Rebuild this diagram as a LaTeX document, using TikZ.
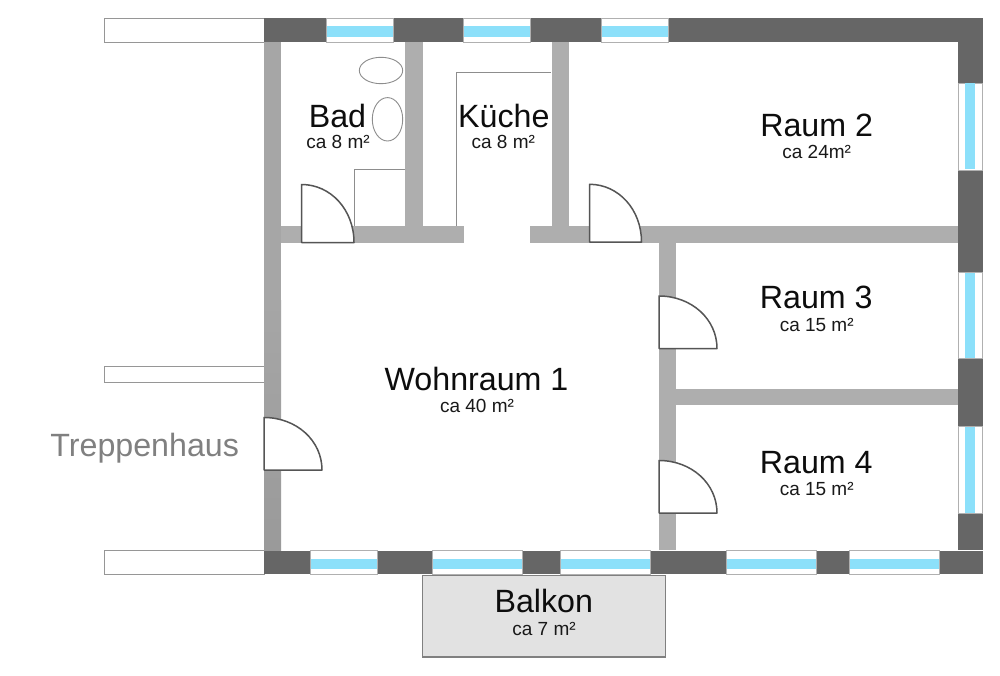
\documentclass[tikz,border=0pt]{standalone}
\usepackage{fontspec}
\setmainfont{Liberation Sans}
\definecolor{darkwall}{HTML}{666666}
\definecolor{innerwall}{HTML}{AEAEAE}
\definecolor{leftwalltop}{HTML}{A6A6A6}
\definecolor{leftwallbot}{HTML}{9A9A9A}
\definecolor{glass}{HTML}{8CE0FA}
\definecolor{thinline}{HTML}{B0B0B0}
\definecolor{doorline}{HTML}{555555}
\definecolor{balkonfill}{HTML}{E2E2E2}
\tikzset{
  wallinner/.style={fill=innerwall,draw=none},
  walldark/.style={fill=darkwall,draw=none},
  winframe/.style={fill=white,draw=thinline,line width=0.9pt},
  winglass/.style={fill=glass,draw=none},
  stub/.style={fill=white,draw=thinline!85!black,line width=1pt},
  fixture/.style={draw=thinline!80!black,line width=0.9pt},
  doorleaf/.style={fill=white,draw=doorline,line width=1.5pt,line join=round},
  bigname/.style={anchor=base,inner sep=0pt,font=\fontsize{32.2}{32.2}\selectfont,text=black!95},
  subname/.style={anchor=base,inner sep=0pt,font=\fontsize{19}{19}\selectfont,text=black!90},
}
\newcommand{\doorshape}[4]{%
  \draw[doorleaf] (#1,#2) .. controls ({#1+0.56*(#3-#1)},#2) and (#3,{#2+0.44*(#4-#2)}) .. (#3,#4) -- (#1,#4) -- cycle;}
\newcommand{\hwin}[4]{%
  \draw[winframe] (#1,#3) rectangle (#2,#4);
  \fill[winglass] (#1+0.5,#3+8) rectangle (#2-0.5,#4-5.5);}
\newcommand{\vwin}[4]{%
  \draw[winframe] (#1,#3) rectangle (#2,#4);
  \fill[winglass] (#1+6.5,#3+0.5) rectangle (#2-7.5,#4-0.5);}
\begin{document}
\begin{tikzpicture}[x=1pt,y=-1pt]
\useasboundingbox (0,0) rectangle (1000,676);
\fill[white] (0,0) rectangle (1000,676);

% stairwell stubs
\draw[stub] (104.5,18.5) rectangle (264,42.5);
\draw[stub] (104.5,366.5) rectangle (264,382.5);
\draw[stub] (104.5,550.5) rectangle (264,574);

% fixtures
\draw[fixture,fill=white] (354,169.5) rectangle (405.5,226.5);
\draw[fixture] (381,70.5) ellipse [x radius=21.7,y radius=13.2];
\draw[fixture] (387.5,119.3) ellipse [x radius=15.2,y radius=21.7];
\draw[fixture] (456,226.5) -- (456,72.5) -- (551,72.5);

% inner walls
\fill[leftwalltop] (264,42.5) rectangle (281,300);
\shade[top color=leftwalltop,bottom color=leftwallbot] (264,300) rectangle (281,550);
\fill[wallinner] (281,226.5) rectangle (463.5,243);
\fill[wallinner] (529.5,226.5) rectangle (958,243);
\fill[wallinner] (405.3,42.5) rectangle (422.7,226.5);
\fill[wallinner] (552.3,42.5) rectangle (569,226.5);
\fill[wallinner] (659,243) rectangle (676,550);
\fill[wallinner] (676,388.5) rectangle (958,404.5);

% top wall
\fill[walldark] (264,18.5) rectangle (982.5,42.5);
\hwin{326.5}{393}{18.5}{42.5}
\hwin{463}{530}{18.5}{42.5}
\hwin{601}{668}{18.5}{42.5}

% right wall
\fill[walldark] (958,42.5) rectangle (982.5,550);
\vwin{958}{982.5}{83}{170}
\vwin{958}{982.5}{272}{358}
\vwin{958}{982.5}{426}{513}

% bottom wall
\fill[walldark] (264,550.5) rectangle (982.5,574);
\hwin{310}{377}{550.5}{574}
\hwin{432.3}{522.5}{550.5}{574}
\hwin{560.5}{650.5}{550.5}{574}
\hwin{726}{816.5}{550.5}{574}
\hwin{849.5}{939.5}{550.5}{574}

% balcony
\draw[fill=balkonfill,draw=black!50,line width=1.1pt] (422.7,575.7) rectangle (665.7,657);

% doors
\doorshape{301.5}{184.5}{354}{242.5}
\doorshape{589.5}{184.3}{641.5}{242}
\doorshape{659}{296}{717}{348.5}
\doorshape{659}{460.5}{717}{513}
\doorshape{264}{417.5}{322}{470}

% labels
\node[bigname] (bad) at (337.5,127.5) {Bad};
\node[subname] (badsub) at (338,149) {ca 8 m²};
\node[bigname] (kueche) at (503.8,127.5) {Küche};
\node[subname] (kuechesub) at (503.3,149) {ca 8 m²};
\node[bigname] (raumzwei) at (816.7,137) {Raum 2};
\node[subname] (raumzweisub) at (816.7,159) {ca 24m²};
\node[bigname] (raumdrei) at (816.3,308.7) {Raum 3};
\node[subname] (raumdreisub) at (816.7,331) {ca 15 m²};
\node[bigname] (raumvier) at (816.3,473) {Raum 4};
\node[subname] (raumviersub) at (816.7,495) {ca 15 m²};
\node[bigname] (wohnraum) at (476.5,390.5) {Wohnraum 1};
\node[subname] (wohnraumsub) at (477,412.5) {ca 40 m²};
\node[bigname] (balkon) at (543.8,612) {Balkon};
\node[subname] (balkonsub) at (544,635) {ca 7 m²};
\node[bigname,text=black!50] (treppenhaus) at (144.7,456) {Treppenhaus};
\end{tikzpicture}
\end{document}
